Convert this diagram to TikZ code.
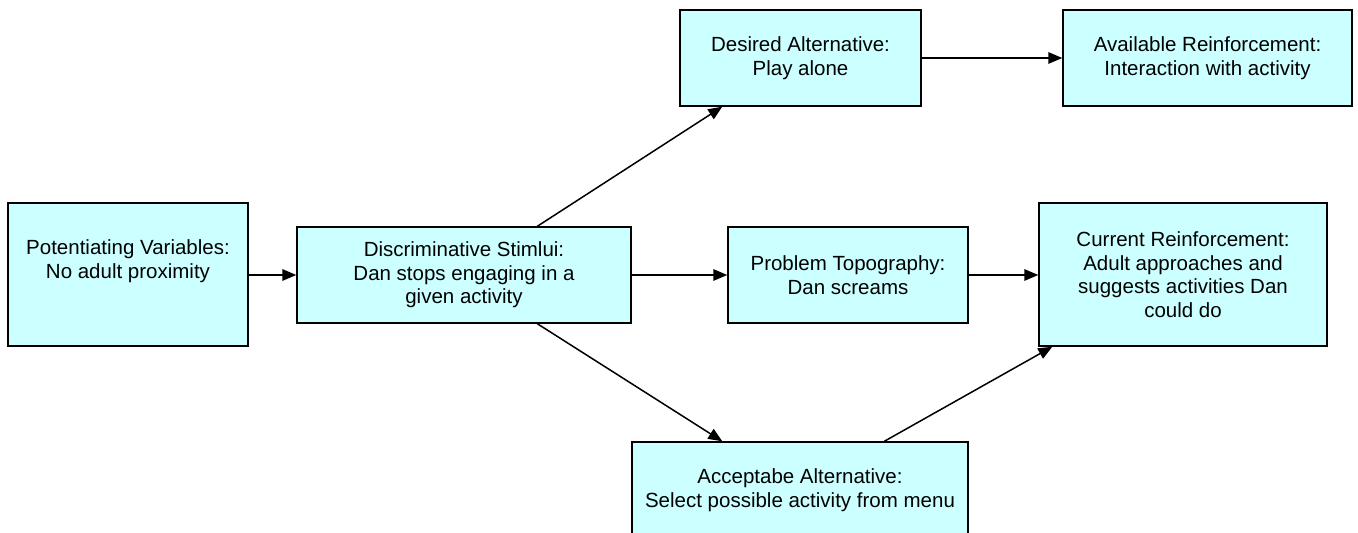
\documentclass[tikz,border=0pt]{standalone}
\usepackage{fontspec}
\setmainfont{Liberation Sans}
\usetikzlibrary{arrows.meta,shadows}
\definecolor{boxfill}{HTML}{CCFFFF}
\tikzset{
  box/.style={draw=black, line width=1.4bp, fill=boxfill, rectangle, align=center,
    inner sep=0pt, font=\fontsize{20.5bp}{23.5bp}\selectfont,
    drop shadow={shadow xshift=1.2bp, shadow yshift=-1.2bp, fill=black!45, opacity=1}},
  conn/.style={draw=black, line width=1.5bp, -{Triangle[length=14bp,width=11.5bp]}}
}
\begin{document}
\begin{tikzpicture}[x=1bp,y=-1bp]
\useasboundingbox (0,0) rectangle (1358,533);
\begin{scope}
\clip (0,0) rectangle (1358,533);
\node[box, minimum width=240bp, minimum height=143bp] (pot) at (128,274.5)
  {Potentiating Variables:\\No adult proximity\\ \strut};
\node[box, minimum width=334bp, minimum height=96bp] (disc) at (464,275)
  {Discriminative Stimlui:\\Dan stops engaging in a\\given activity};
\node[box, minimum width=241bp, minimum height=96bp] (des) at (800.5,58)
  {Desired Alternative:\\Play alone};
\node[box, minimum width=289bp, minimum height=96bp] (avail) at (1207.5,58)
  {Available Reinforcement:\\Interaction with activity};
\node[box, minimum width=240bp, minimum height=96bp] (prob) at (848,275)
  {Problem Topography:\\Dan screams};
\node[box, minimum width=288bp, minimum height=143bp] (cur) at (1183,274.5)
  {Current Reinforcement:\\Adult approaches and\\suggests activities Dan\\could do};
\node[box, minimum width=336bp, minimum height=96bp] (acc) at (800,490)
  {Acceptabe Alternative:\\Select possible activity from menu};
\end{scope}
\draw[conn] (pot.east |- disc.west) -- (disc.west);
\draw[conn] (disc.east) -- (prob.west);
\draw[conn] (prob.east) -- (prob.east -| cur.west);
\draw[conn] (des.east) -- (avail.west);
\draw[conn] ([xshift=241bp]disc.north west) -- ([xshift=43bp]des.south west);
\draw[conn] ([xshift=241bp]disc.south west) -- ([xshift=91bp]acc.north west);
\draw[conn] ([xshift=253bp]acc.north west) -- ([xshift=14bp]cur.south west);
\end{tikzpicture}
\end{document}
